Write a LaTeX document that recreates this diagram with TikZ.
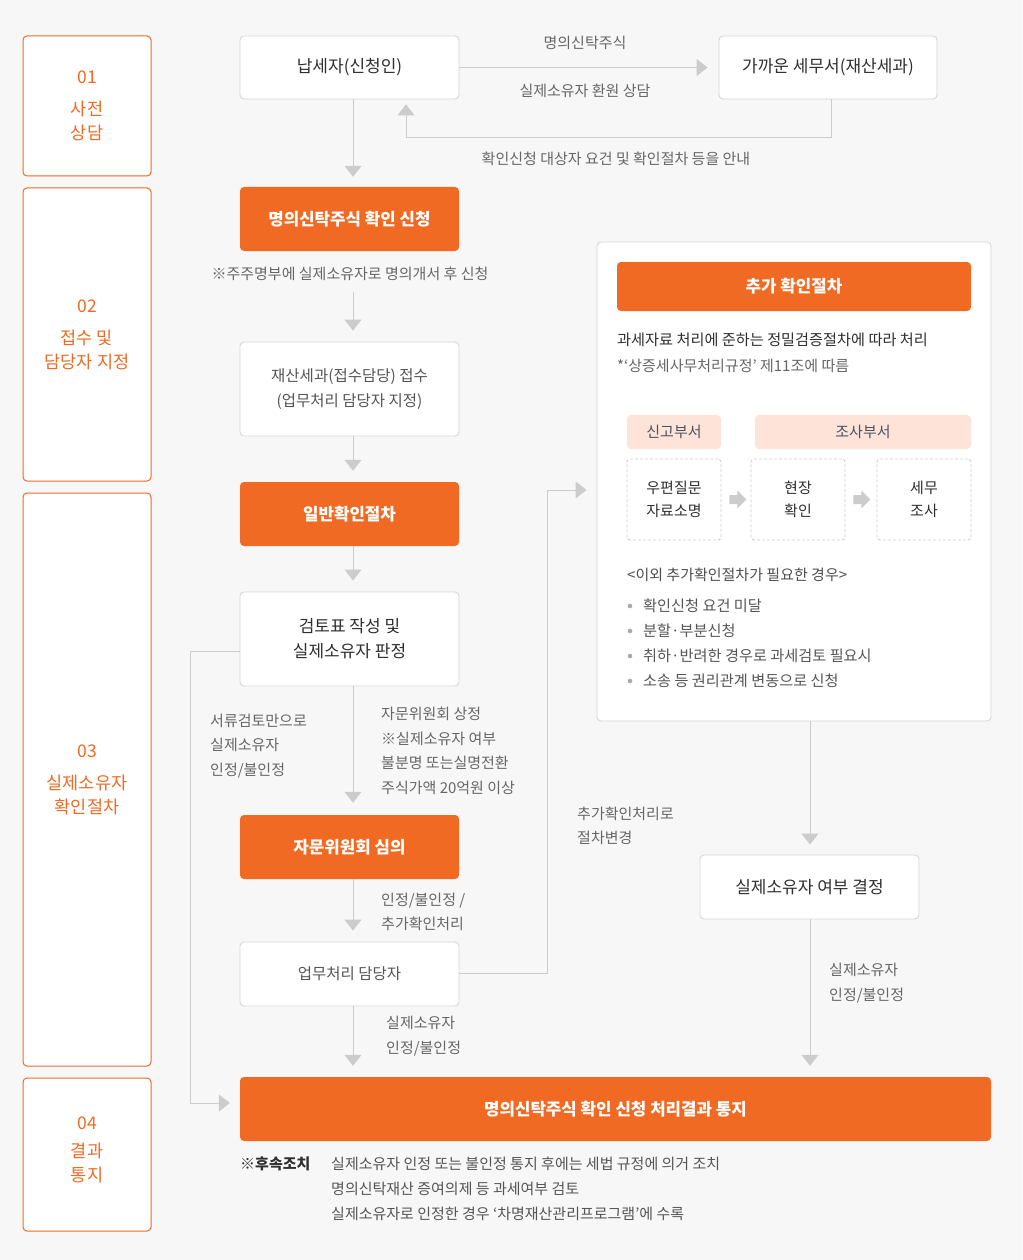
\documentclass[tikz,border=0pt]{standalone}
\usepackage{fontspec}
\setmainfont{Noto Sans CJK KR}
\usetikzlibrary{arrows.meta}
\definecolor{bg}{HTML}{F7F7F7}
\definecolor{org}{HTML}{F06A23}
\definecolor{ln}{HTML}{CCCCCC}
\definecolor{bd}{HTML}{D6D6D6}
\definecolor{dark}{HTML}{2F2F2F}
\definecolor{mid}{HTML}{555555}
\definecolor{lblc}{HTML}{666666}
\definecolor{peach}{HTML}{FDE3D8}
\definecolor{tagtx}{HTML}{4A5262}
\definecolor{dotc}{HTML}{AAAAAA}
\begin{document}
\begin{tikzpicture}[x=1pt,y=-1pt,
  stage/.style={draw=org, fill=white, line width=1pt, rounded corners=4pt, text=org, align=center, font=\fontsize{17.5}{24}\selectfont, minimum width=128pt, inner sep=0pt},
  stagetext/.style={text=org, align=center, font=\fontsize{17.5}{24}\selectfont, inner sep=0pt},
  wbox/.style={draw=bd, fill=white, line width=0.9pt, rounded corners=4pt, text=dark, align=center, font=\fontsize{17}{25}\selectfont, minimum width=219pt, minimum height=64pt, inner sep=0pt},
  obox/.style={fill=org, rounded corners=4pt, text=white, align=center, font=\bfseries\fontsize{16.8}{25}\selectfont, minimum width=219pt, minimum height=64pt, inner sep=0pt},
  lbl/.style={text=lblc, align=left, font=\fontsize{15}{24.5}\selectfont, inner sep=0pt},
  tagbox/.style={fill=peach, rounded corners=4pt, minimum height=34pt, text=tagtx, font=\fontsize{15}{20}\selectfont, inner sep=0pt},
  dbox/.style={draw=ln, dashed, dash pattern=on 3pt off 2pt, line width=0.9pt, fill=white, rounded corners=3pt, minimum width=94pt, minimum height=81pt, align=center, text=dark, font=\fontsize{15}{23}\selectfont, inner sep=0pt},
  arr/.style={draw=ln, line width=1pt, -{Triangle[width=17pt,length=11pt]}},
  blk/.style={fill=ln}
]
\fill[bg] (0,0) rectangle (1022,1260);
\useasboundingbox (0,0) rectangle (1022,1260);

% stage boxes
\node[stage, minimum height=140pt] (s1) at (87,106) {01\\[8pt]사전\\상담};
\node[stage, minimum height=293pt] (s2) at (87,334.5) {02\\[8pt]접수 및\\담당자 지정};
\node[stage, minimum height=573pt] (s3) at (87,779.5) {03\\[8pt]실제소유자\\확인절차};
\node[stage, minimum height=153pt] (s4) at (87,1154.5) {};
\node[stagetext] (s4t) at ([yshift=5pt]s4.center) {04\\[4pt]결과\\통지};

% main column
\node[wbox, minimum height=63pt] (nap) at (349.5,67.5) {납세자(신청인)};
\node[wbox, minimum width=218pt, minimum height=63pt] (near) at (828,67.5) {가까운 세무서(재산세과)};
\node[obox] (apply) at (349.5,219) {명의신탁주식 확인 신청};
\node[wbox, minimum height=94pt, text=mid, font=\fontsize{15.5}{25}\selectfont] (recv) at (349.5,389) {재산세과(접수담당) 접수\\(업무처리 담당자 지정)};
\node[obox] (gen) at (349.5,514) {일반확인절차};
\node[wbox, minimum height=94pt] (rev) at (349.5,639) {검토표 작성 및\\실제소유자 판정};
\node[obox] (adv) at (349.5,847) {자문위원회 심의};
\node[wbox, text=mid, font=\fontsize{15.5}{25}\selectfont] (off) at (349.5,974) {업무처리 담당자};

% right panel
\node[draw=bd, line width=0.9pt, fill=white, rounded corners=4pt, minimum width=394pt, minimum height=479pt, inner sep=0pt] (panel) at (794,481.5) {};
\node[obox, minimum width=354pt, minimum height=49pt] (addt) at (794,286.5) {추가 확인절차};
\node[anchor=west, text=dark, font=\fontsize{15.2}{20}\selectfont, inner sep=0pt] (p1) at (617,340) {과세자료 처리에 준하는 정밀검증절차에 따라 처리};
\node[anchor=west, text=lblc, font=\fontsize{15}{20}\selectfont, inner sep=0pt] (p2) at (617,366) {*‘상증세사무처리규정’ 제11조에 따름};
\node[tagbox, minimum width=94pt] (t1) at (674,432) {신고부서};
\node[tagbox, minimum width=216pt] (t2) at (863,432) {조사부서};
\node[dbox] (d1) at (674,499.5) {우편질문\\자료소명};
\node[dbox] (d2) at (798,499.5) {현장\\확인};
\node[dbox] (d3) at (924,499.5) {세무\\조사};
\fill[blk] (d1.east) ++(8,-4.5) -- ++(8,0) -- ++(0,-4.5) -- ++(9,9) -- ++(-9,9) -- ++(0,-4.5) -- ++(-8,0) -- cycle;
\fill[blk] (d2.east) ++(8,-4.5) -- ++(8,0) -- ++(0,-4.5) -- ++(9,9) -- ++(-9,9) -- ++(0,-4.5) -- ++(-8,0) -- cycle;
\node[anchor=west, text=dark!85, font=\fontsize{15}{20}\selectfont, inner sep=0pt] (p3) at (627,575) {<이외 추가확인절차가 필요한 경우>};
\foreach \yy/\tx in {606/확인신청 요건 미달, 631/분할·부분신청, 656/취하·반려한 경우로 과세검토 필요시, 681/소송 등 권리관계 변동으로 신청}{
  \fill[dotc] (630,\yy) circle (2.3pt);
  \node[anchor=west, text=mid, font=\fontsize{15.2}{20}\selectfont, inner sep=0pt] at (643,\yy) {\tx};
}

\node[wbox] (dec) at (809.5,887) {실제소유자 여부 결정};
\node[obox, minimum width=751pt] (res) at (615.5,1109) {명의신탁주식 확인 신청 처리결과 통지};

% labels
\node[lbl] (l1) at (585,43) {명의신탁주식};
\node[lbl] (l2) at (585,91) {실제소유자 환원 상담};
\node[lbl] (l3) at (616,159) {확인신청 대상자 요건 및 확인절차 등을 안내};
\node[lbl] (l4) at (350,274) {※주주명부에 실제소유자로 명의개서 후 신청};
\node[lbl, anchor=west] (l5) at (210,746) {서류검토만으로\\실제소유자\\인정/불인정};
\node[lbl, anchor=west] (l6) at (381,751) {자문위원회 상정\\※실제소유자 여부\\불분명 또는실명전환\\주식가액 20억원 이상};
\node[lbl, anchor=west] (l7) at (381,912) {인정/불인정 /\\추가확인처리};
\node[lbl, anchor=west] (l8) at (386,1036) {실제소유자\\인정/불인정};
\node[lbl, anchor=west] (l9) at (577,826) {추가확인처리로\\절차변경};
\node[lbl, anchor=west] (l10) at (829,983) {실제소유자\\인정/불인정};

% follow-up
\node[anchor=west, text=dark, font=\bfseries\fontsize{15}{25}\selectfont, inner sep=0pt] (f0) at (240,1164) {※후속조치};
\node[anchor=west, text=mid, align=left, font=\fontsize{15}{25}\selectfont, inner sep=0pt] (f1) at (331,1189) {실제소유자 인정 또는 불인정 통지 후에는 세법 규정에 의거 조치\\명의신탁재산 증여의제 등 과세여부 검토\\실제소유자로 인정한 경우 ‘차명재산관리프로그램’에 수록};

% connectors
\draw[arr, shorten >=10pt] ([xshift=3.5pt]nap.south) -- ([xshift=3.5pt]apply.north);
\draw[arr, shorten <=41pt, shorten >=11pt] ([xshift=3.5pt]apply.south) -- ([xshift=3.5pt]recv.north);
\draw[arr, shorten >=11pt] ([xshift=3.5pt]recv.south) -- ([xshift=3.5pt]gen.north);
\draw[arr, shorten >=11pt] ([xshift=3.5pt]gen.south) -- ([xshift=3.5pt]rev.north);
\draw[arr, shorten >=12pt] ([xshift=3.5pt]rev.south) -- ([xshift=3.5pt]adv.north);
\draw[arr, shorten >=11pt] ([xshift=3.5pt]adv.south) -- ([xshift=3.5pt]off.north);
\draw[arr, shorten >=11pt] ([xshift=3.5pt]off.south) -- ([xshift=3.5pt]res.north -| off.south);
\draw[arr, shorten >=11pt] (nap.east) -- (near.west);
\draw[arr, shorten >=5pt] ([xshift=3pt]near.south) -- ++(0,38) -| ([xshift=56.5pt]nap.south);
\draw[arr, shorten >=10pt] ([yshift=-12pt]rev.west) -- ++(-49,0) |- ([yshift=6pt]res.west);
\draw[arr, shorten >=10pt] ([yshift=1pt]off.east) -- ++(88,0) |- ([yshift=-8.5pt]panel.west);
\draw[arr, shorten >=10pt] ([xshift=16pt]panel.south) -- ([xshift=0.5pt]dec.north);
\draw[arr, shorten >=11pt] ([xshift=0.5pt]dec.south) -- ([xshift=194.5pt]res.north);
\end{tikzpicture}
\end{document}
